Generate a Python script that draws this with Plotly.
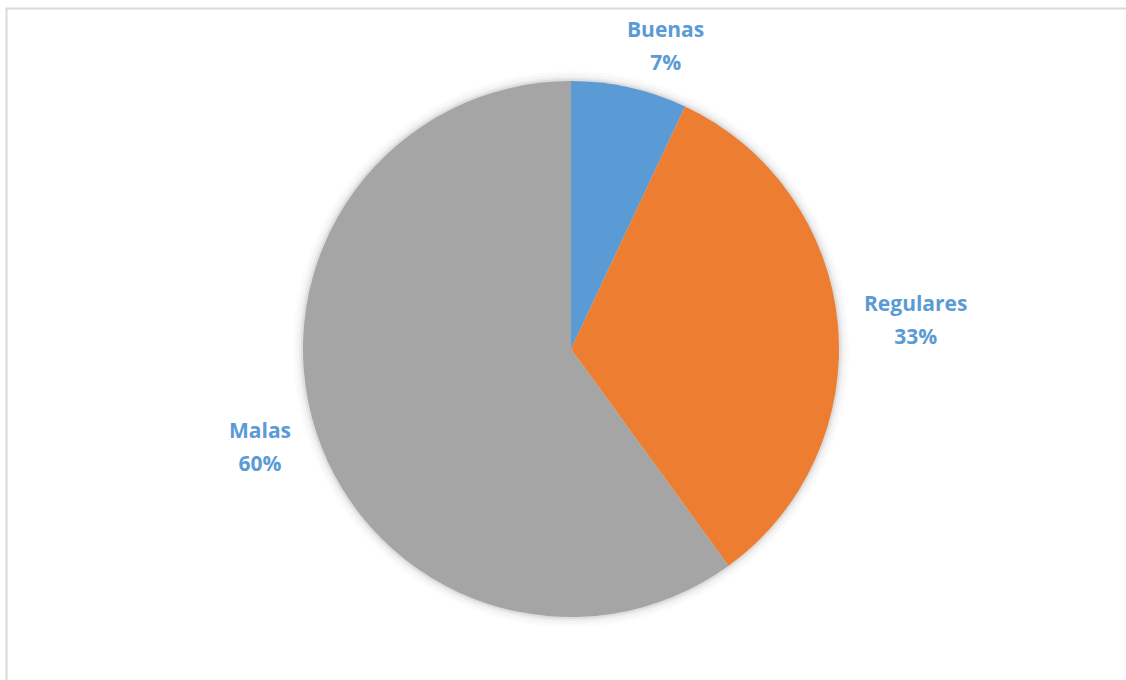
import math
import plotly.graph_objects as go

categories = ["Buenas", "Regulares", "Malas"]
values = [7, 33, 60]
colors = ["#5B9BD5", "#ED7D31", "#A5A5A5"]

W, H = 1126, 680
CX, CY, R = 571, 349, 268
LABEL_COLOR = "#5B9BD5"
FONT = "'Open Sans', Lato, sans-serif"
TEXT_PX = 21      # visible glyph size
LINE_BASE = 25    # base size that sets the line spacing (1.3 em)

fig = go.Figure()

fig.add_trace(go.Pie(
    labels=categories,
    values=values,
    marker=dict(colors=colors, line=dict(width=0)),
    sort=False,
    direction="clockwise",
    rotation=0,
    textinfo="none",
    hoverinfo="label+percent",
    showlegend=False,
    domain=dict(x=[(CX - R) / W, (CX + R) / W], y=[1 - (CY + R) / H, 1 - (CY - R) / H]),
))

# soft shadow around the pie
shapes = []
for k, op in [(10, 0.015), (7, 0.025), (4, 0.04), (2, 0.06)]:
    shapes.append(dict(
        type="circle", xref="paper", yref="paper", layer="below",
        x0=(CX - R - k) / W, x1=(CX + R + k) / W,
        y0=1 - (CY + R + k) / H, y1=1 - (CY - R - k) / H,
        fillcolor=f"rgba(0,0,0,{op})", line=dict(width=0),
    ))

# chart border (left and top)
shapes.append(dict(type="line", xref="paper", yref="paper",
                   x0=6.5 / W, x1=6.5 / W, y0=-0.05, y1=1 - 8.5 / H,
                   line=dict(color="#D9D9D9", width=2)))
shapes.append(dict(type="line", xref="paper", yref="paper",
                   x0=5.5 / W, x1=1.05, y0=1 - 8.5 / H, y1=1 - 8.5 / H,
                   line=dict(color="#D9D9D9", width=2)))

# labels outside, positioned from the data's mid-angles
total = sum(values)
annotations = []
cum = 0
for name, v in zip(categories, values):
    mid = (cum + v / 2) / total * 2 * math.pi
    cum += v
    s, c = math.sin(mid), math.cos(mid)
    xa = "left" if s > 0.1 else ("right" if s < -0.1 else "center")
    ya = "bottom" if c > 0.7 else ("top" if c < -0.7 else "middle")
    if ya == "middle":
        dx, dy = R + 24, R + 48
    else:
        dx, dy = R - 20, R + 10
    px = CX + dx * s
    py = CY - dy * c
    pct = round(v / total * 100)
    span = f"<span style='font-size:{TEXT_PX}px'>"
    annotations.append(dict(
        x=px / W, y=1 - py / H, xref="paper", yref="paper",
        xanchor=xa, yanchor=ya, align="center", showarrow=False,
        text=f"<b>{span}{name}</span><br>{span}{pct}%</span></b>",
        font=dict(family=FONT, size=LINE_BASE, color=LABEL_COLOR),
    ))

fig.update_layout(
    width=W, height=H,
    margin=dict(l=0, r=0, t=0, b=0),
    paper_bgcolor="white",
    plot_bgcolor="white",
    shapes=shapes,
    annotations=annotations,
)

fig.write_html(
    "out.html",
    config={"displayModeBar": False},
    post_script="document.body.style.margin='0';document.body.style.overflow='hidden';",
)
